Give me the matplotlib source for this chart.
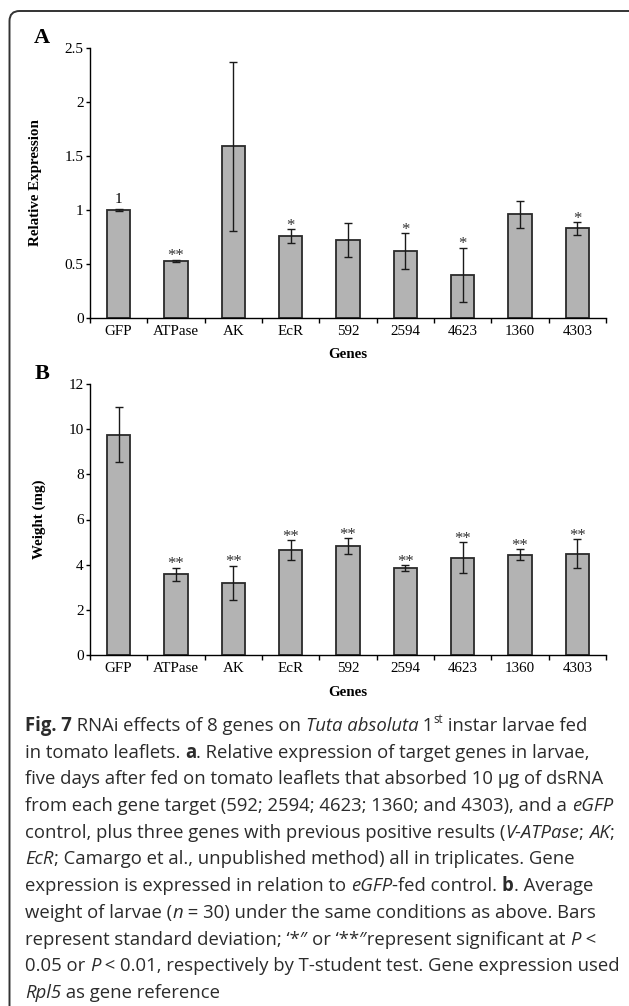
import matplotlib
matplotlib.use("Agg")
import matplotlib.pyplot as plt
from matplotlib.patches import FancyBboxPatch

# ---- data ----
genes = ["GFP", "ATPase", "AK", "EcR", "592", "2594", "4623", "1360", "4303"]

expr_mean = [1.00, 0.53, 1.59, 0.76, 0.72, 0.62, 0.40, 0.96, 0.83]
expr_sd = [0.01, 0.01, 0.78, 0.065, 0.157, 0.167, 0.25, 0.123, 0.057]
expr_marks = ["1", "**", "", "*", "", "*", "*", "", "*"]

weight_mean = [9.76, 3.57, 3.20, 4.65, 4.83, 3.85, 4.31, 4.44, 4.49]
weight_sd = [1.22, 0.30, 0.76, 0.45, 0.34, 0.12, 0.70, 0.24, 0.63]
weight_marks = ["", "**", "**", "**", "**", "**", "**", "**", "**"]

W, H = 629, 1006
SERIF = "Liberation Serif"
CAP_FONT = "Open Sans"
CAP_COLOR = "#2b2b2b"

fig = plt.figure(figsize=(W / 100, H / 100), dpi=100)


def fx(px):
    return px / W


def fy(py):
    return 1 - py / H


def panel(top, bottom, means, sds, marks, ylim, yticks, ylabel, ylab_x, letter):
    ax = fig.add_axes([fx(90), fy(bottom), fx(606) - fx(90), fy(top) - fy(bottom)])
    x = list(range(len(genes)))
    ax.bar(x, means, width=0.41, color="#b3b3b3", edgecolor="#2a2a2a",
           linewidth=1.3, zorder=2)
    ax.errorbar(x, means, yerr=sds, fmt="none", ecolor="#1a1a1a",
                elinewidth=1.0, capsize=3, capthick=1.0, zorder=3)
    for xi, m, s, lab in zip(x, means, sds, marks):
        if not lab:
            continue
        if lab == "1":
            ax.annotate(lab, (xi, m + s), xytext=(0, 4.3), textcoords="offset points",
                        ha="center", va="baseline", family=SERIF, fontsize=11)
        else:
            ax.annotate(lab, (xi, m + s), xytext=(0, -0.5), textcoords="offset points",
                        ha="center", va="baseline", family=SERIF, fontsize=12,
                        color="#333333")
    ax.set_xlim(-0.5, len(genes) - 0.5)
    ax.set_ylim(*ylim)
    ax.set_yticks(yticks)
    ax.set_yticklabels([f"{t:g}" for t in yticks], family=SERIF, fontsize=11)
    ax.set_xticks(x)
    ax.set_xticklabels(genes, family=SERIF, fontsize=10.8)
    ax.set_xticks([i - 0.5 for i in range(len(genes) + 1)], minor=True)
    ax.tick_params(axis="x", which="major", length=0, pad=5)
    ax.tick_params(axis="x", which="minor", length=3.5, width=1.0, direction="out")
    ax.tick_params(axis="y", length=3, width=1.0, pad=1.5, direction="out")
    for side in ("top", "right"):
        ax.spines[side].set_visible(False)
    for side in ("left", "bottom"):
        ax.spines[side].set_linewidth(1.0)
        ax.spines[side].set_color("black")
    ax.set_ylabel(ylabel, family=SERIF, fontsize=10.8, fontweight="bold")
    ax.yaxis.set_label_coords((ylab_x - 90) / 516, 0.5)
    ax.text(0.5, -(37 / (bottom - top)), "Genes", transform=ax.transAxes,
            ha="center", va="center", family=SERIF, fontsize=10.8, fontweight="bold")
    fig.text(fx(42), fy(top - 10), letter, ha="center", va="center",
             family=SERIF, fontsize=16, fontweight="bold")
    return ax


panel(48, 318, expr_mean, expr_sd, expr_marks, (0, 2.5),
      [0, 0.5, 1, 1.5, 2, 2.5], "Relative Expression", 42, "A")
panel(384, 655, weight_mean, weight_sd, weight_marks, (0, 12),
      [0, 2, 4, 6, 8, 10, 12], "Weight (mg)", 46, "B")

# outer rounded frame (open at the bottom / right edge)
frame = FancyBboxPatch((fx(9.5), fy(1030)), fx(640) - fx(9.5), fy(11) - fy(1030),
                       boxstyle="round,pad=0,rounding_size=0.016",
                       transform=fig.transFigure, facecolor="none",
                       edgecolor="#333333", linewidth=1.4, mutation_aspect=W / H)
fig.patches.append(frame)

# ---- caption ----
caption = [
    [("Fig. 7", "b"), (" RNAi effects of 8 genes on ", "r"), ("Tuta absoluta", "i"),
     (" 1", "r"), ("st", "sup"), (" instar larvae fed", "r")],
    [("in tomato leaflets. ", "r"), ("a", "b"),
     (". Relative expression of target genes in larvae,", "r")],
    [("five days after fed on tomato leaflets that absorbed 10 \u00b5g of dsRNA", "r")],
    [("from each gene target (592; 2594; 4623; 1360; and 4303), and a ", "r"), ("eGFP", "i")],
    [("control, plus three genes with previous positive results (", "r"), ("V-ATPase", "i"),
     ("; ", "r"), ("AK", "i"), (";", "r")],
    [("EcR", "i"), ("; Camargo et al., unpublished method) all in triplicates. Gene", "r")],
    [("expression is expressed in relation to ", "r"), ("eGFP", "i"),
     ("-fed control. ", "r"), ("b", "b"), (". Average", "r")],
    [("weight of larvae (", "r"), ("n", "i"), (" = 30) under the same conditions as above. Bars", "r")],
    [("represent standard deviation; \u2018*\u2033 or \u2018**\u2033represent significant at ", "r"),
     ("P", "i"), (" <", "r")],
    [("0.05 or ", "r"), ("P", "i"), (" < 0.01, respectively by T-student test. Gene expression used", "r")],
    [("Rpl5", "i"), (" as gene reference", "r")],
]

renderer = fig.canvas.get_renderer()


def style_kw(style, size):
    kw = dict(family=CAP_FONT, fontsize=size, color=CAP_COLOR)
    if style == "b":
        kw["fontweight"] = "bold"
    elif style == "i":
        kw["fontstyle"] = "italic"
    elif style == "sup":
        kw["fontsize"] = size * 0.62
    return kw


def seg_width(text, kw):
    t1 = fig.text(0, 0, "|" + text + "|", **kw)
    t2 = fig.text(0, 0, "||", **kw)
    w = t1.get_window_extent(renderer).width - t2.get_window_extent(renderer).width
    t1.remove()
    t2.remove()
    return w


def line_width(segs, size):
    return sum(seg_width(t, style_kw(s, size)) for t, s in segs)


base = 10.0
size = base * (606 - 25) / line_width(caption[2], base)

for i, segs in enumerate(caption):
    x = 25.0
    y = 731 + i * 26.7
    for text, style in segs:
        kw = style_kw(style, size)
        yy = y - (size * 0.45 * 100 / 72 if style == "sup" else 0)
        fig.text(fx(x), fy(yy), text, ha="left", va="baseline", **kw)
        x += seg_width(text, kw)

fig.savefig("out.png", dpi=100)
